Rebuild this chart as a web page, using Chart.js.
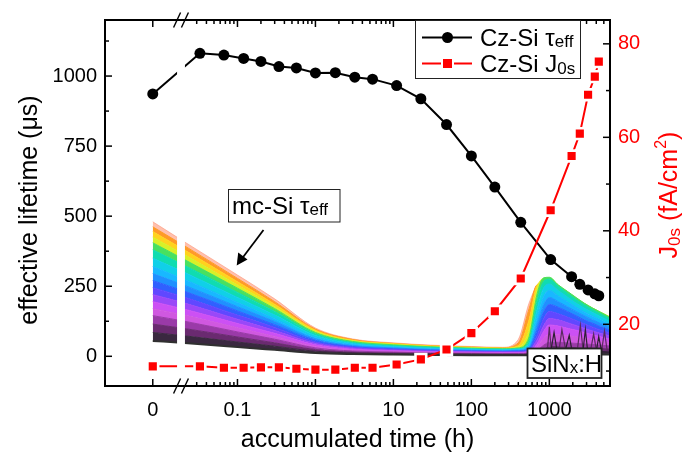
<!DOCTYPE html>
<html><head><meta charset="utf-8">
<script src="https://cdn.jsdelivr.net/npm/chart.js@4/dist/chart.umd.min.js"></script>
<style>html,body{margin:0;padding:0;background:#fff}canvas{display:block}</style>
</head><body>
<canvas id="c" width="691" height="455"></canvas>
<script>
// ---------------- DATA ----------------
// Cz-Si reference wafer
const czTime = [0, 0.033, 0.067, 0.12, 0.2, 0.34, 0.57, 1.0, 1.8, 3.2, 5.4, 11, 22.5, 48, 100, 200, 430, 1040, 1930, 2460, 3140, 3830, 4310];
const czTau  = [936, 1081, 1075, 1063, 1052, 1034, 1029, 1011, 1012, 996, 989, 966, 919, 827, 715, 604, 478, 345, 284, 257, 237, 223, 216];
const czJ0s  = [11.0, 11.0, 10.7, 10.7, 10.8, 10.8, 10.5, 10.3, 10.3, 10.7, 10.7, 11.4, 12.5, 14.6, 18.1, 22.8, 29.8, 44.4, 56.0, 60.8, 69.1, 73.0, 76.2];

// mc-Si effective lifetime, a selection of the many traces (top = highest initial lifetime)
const mcTime = [0, 0.021, 0.1, 0.3, 1, 3, 10, 30, 100, 250, 400, 550, 700, 850, 1000, 1300, 1700, 2200, 2800, 3600, 4500, 5900];
const mcTau = [
  [480, 408, 290, 205, 101, 62, 48, 40, 35, 32,  60, 190, 245, 235, 225, 205, 190, 175, 160, 150, 140, 128],
  [462, 394, 278, 195,  97, 60, 46, 38, 33, 30,  48, 170, 255, 250, 240, 220, 205, 188, 172, 160, 148, 135],
  [445, 379, 266, 186,  93, 57, 45, 37, 32, 29,  38, 130, 255, 268, 262, 240, 220, 200, 183, 168, 155, 140],
  [425, 362, 254, 178,  89, 55, 43, 35, 31, 28,  33,  95, 245, 278, 275, 250, 228, 205, 188, 172, 158, 142],
  [405, 345, 243, 170,  85, 53, 41, 34, 29, 27,  30,  70, 225, 280, 282, 255, 232, 210, 190, 172, 158, 140],
  [380, 324, 228, 160,  80, 49, 38, 32, 27, 25,  27,  55, 200, 268, 275, 250, 226, 203, 184, 166, 152, 135],
  [350, 299, 210, 147,  74, 46, 35, 29, 25, 23,  25,  45, 170, 245, 258, 235, 212, 190, 172, 156, 142, 126],
  [320, 274, 192, 134,  67, 42, 32, 27, 23, 21,  23,  38, 140, 215, 235, 215, 195, 175, 158, 143, 130, 115],
  [295, 253, 177, 124,  62, 38, 30, 24, 21, 19,  21,  32, 115, 185, 210, 195, 177, 160, 145, 130, 118, 104],
  [270, 232, 162, 113,  57, 35, 27, 22, 19, 18,  19,  27,  95, 160, 185, 175, 160, 145, 130, 118, 106,  94],
  [245, 211, 147, 103,  51, 32, 25, 20, 18, 16,  17,  23,  75, 135, 160, 152, 140, 128, 116, 104,  94,  84],
  [220, 190, 132,  92,  46, 29, 22, 18, 16, 15,  15,  20,  60, 110, 135, 130, 120, 110, 100,  90,  82,  73],
  [195, 168, 117,  82,  41, 25, 20, 16, 14, 13,  13,  17,  45,  90, 112, 108, 100,  93,  85,  77,  70,  62],
  [170, 147, 102,  71,  36, 22, 17, 14, 12, 11,  11,  14,  35,  65,  80,  78,  74,  70,  65,  60,  55,  50],
  [145, 125,  87,  61,  30, 19, 15, 12, 11, 10,  10,  12,  22,  40,  50,  50,  48,  46,  44,  42,  40,  37],
  [115,  99,  69,  48,  24, 15, 12, 10,  9,  8,   8,   9,  15,  25,  32,  33,  32,  31,  30,  29,  28,  26],
  [ 85,  73,  51,  36,  18, 12,  9,  8,  7,  6,   6,   7,  10,  14,  18,  19,  19,  18,  18,  17,  16,  15],
  [ 55,  47,  33,  23,  12,  8,  6,  5,  4,  4,   4,   4,   5,   6,   7,   7,   7,   7,   6,   6,   6,   6]
];
// noisy dark mc-Si traces after the turning point
const spikeTime = [700, 850, 950, 1000, 1050, 1150, 1250, 1350, 1450, 1600, 1800, 1950, 2100, 2300, 2500, 2700, 2900, 3100, 3400, 3700, 4000, 4300, 4700, 5100, 5500, 5900];
const spikeA = [10, 25, 30, 105, 35, 34, 33, 32, 95, 31, 30, 30, 29, 28, 110, 27, 26, 26, 25, 80, 24, 24, 23, 90, 22, 22];
const spikeB = [6, 15, 20, 22, 22, 85, 22, 21, 21, 20, 75, 20, 19, 19, 18, 18, 95, 18, 17, 17, 17, 70, 16, 16, 15, 15];

// axis ticks
const xMajorTicks = [0, 0.1, 1, 10, 100, 1000];
const xMinorTicks = [0.03,0.04,0.05,0.06,0.07,0.08,0.09, 0.2,0.3,0.4,0.5,0.6,0.7,0.8,0.9, 2,3,4,5,6,7,8,9,
                     20,30,40,50,60,70,80,90, 200,300,400,500,600,700,800,900, 2000,3000,4000,5000];
const yMajorTicks = [0, 250, 500, 750, 1000];
const yMinorTicks = [125, 375, 625, 875, 1125];
const y2MajorTicks = [20, 40, 60, 80];
const y2MinorTicks = [10, 30, 50, 70];

// ---------------- STYLE / LAYOUT ----------------
const ZERO_AT = 0.0082;          // where "0" sits on the broken log axis
const BREAK_LO = 0.0168, BREAK_HI = 0.0212;
const FF = '"Liberation Sans", Arial, Helvetica, sans-serif';
const mcColors = ['rgba(255,150,120,0.6)','#ff9a28','#ffd21e','#d8f028','#48e060','#10dcb0','#10d0e8','#18b8ff',
  '#2090ff','#3060ff','#6048ff','#9a48f8','#cc50f4','#d058e0','#9a3aa8','#6a2a70','#3a2840','#303030'];
const tx = t => (t === 0 ? ZERO_AT : t);

const datasets = [];
mcTau.forEach((row, i) => {
  datasets.push({
    data: row.map((v, j) => ({x: tx(mcTime[j]), y: v})),
    yAxisID: 'y', borderColor: mcColors[i], backgroundColor: mcColors[i],
    borderWidth: i === mcTau.length - 1 ? 2 : 1, pointRadius: 0,
    fill: i < mcTau.length - 1 ? '+1' : false,
    cubicInterpolationMode: 'monotone', order: 100 - i
  });
});
[[spikeA, '#5a2a60'], [spikeB, '#2e1e34']].forEach(([vals, col], k) => {
  datasets.push({
    data: vals.map((v, j) => ({x: spikeTime[j], y: v})), yAxisID: 'y',
    borderColor: col, borderWidth: 1.2, pointRadius: 0, fill: false, tension: 0, order: 20 - k
  });
});
datasets.push({
  data: czTime.map((t, j) => ({x: tx(t), y: czTau[j]})), yAxisID: 'y',
  borderColor: '#000', backgroundColor: '#000', borderWidth: 2,
  pointStyle: 'circle', pointRadius: 5.5, pointBackgroundColor: '#000', pointBorderColor: '#000', pointBorderWidth: 0,
  fill: false, tension: 0, order: 1
});
datasets.push({
  data: czTime.map((t, j) => ({x: tx(t), y: czJ0s[j]})), yAxisID: 'y2',
  borderColor: '#ff0000', backgroundColor: '#ff0000', borderWidth: 2,
  pointStyle: 'rect', pointRadius: 7.6, pointBackgroundColor: '#ff0000', pointBorderColor: '#ffffff', pointBorderWidth: 2.6,
  fill: false, tension: 0, order: 0
});

function richWidth(ctx, parts) { let w = 0; for (const p of parts) { ctx.font = p.s + 'px ' + FF; w += ctx.measureText(p.t).width; } return w; }
function drawRich(ctx, parts, x, y) {
  for (const p of parts) { ctx.font = p.s + 'px ' + FF; ctx.fillText(p.t, x, y + (p.dy || 0)); x += ctx.measureText(p.t).width; }
}
function seg(ctx, x1, y1, x2, y2) { ctx.beginPath(); ctx.moveTo(x1, y1); ctx.lineTo(x2, y2); ctx.stroke(); }

const decor = {
  id: 'decor',
  afterDatasetsDraw(chart) {
    const {ctx, chartArea: a, scales: {x}} = chart;
    const x1 = x.getPixelForValue(BREAK_LO), x2 = x.getPixelForValue(BREAK_HI);
    ctx.save(); ctx.fillStyle = '#fff'; ctx.fillRect(x1, a.top + 1, x2 - x1, a.bottom - a.top - 2); ctx.restore();
  },
  afterDraw(chart) {
    const {ctx, chartArea: a, scales: {x, y, y2}} = chart;
    ctx.save();
    ctx.strokeStyle = '#000'; ctx.lineWidth = 1.5;
    xMajorTicks.forEach(v => { const p = x.getPixelForValue(tx(v)); seg(ctx, p, a.bottom, p, a.bottom - 7); seg(ctx, p, a.top, p, a.top + 7); });
    xMinorTicks.forEach(v => { const p = x.getPixelForValue(v); seg(ctx, p, a.bottom, p, a.bottom - 4); seg(ctx, p, a.top, p, a.top + 4); });
    yMajorTicks.forEach(v => { const p = y.getPixelForValue(v); seg(ctx, a.left, p, a.left + 7, p); });
    yMinorTicks.forEach(v => { const p = y.getPixelForValue(v); seg(ctx, a.left, p, a.left + 4, p); });
    y2MajorTicks.forEach(v => { const p = y2.getPixelForValue(v); seg(ctx, a.right, p, a.right - 7, p); });
    y2MinorTicks.forEach(v => { const p = y2.getPixelForValue(v); seg(ctx, a.right, p, a.right - 4, p); });
    // frame
    ctx.lineWidth = 2; ctx.strokeRect(a.left, a.top, a.right - a.left, a.bottom - a.top);
    // axis break marks
    ctx.lineWidth = 1.4;
    [x.getPixelForValue(BREAK_LO), x.getPixelForValue(BREAK_HI)].forEach(bx => {
      [a.top, a.bottom].forEach(by => seg(ctx, bx - 3.5, by + 7.5, bx + 3.5, by - 7.5));
    });
    // axis titles
    ctx.fillStyle = '#000'; ctx.textBaseline = 'alphabetic'; ctx.textAlign = 'left';
    let parts = [{t: 'accumulated time (h)', s: 25}];
    drawRich(ctx, parts, (a.left + a.right) / 2 - richWidth(ctx, parts) / 2, 447);
    parts = [{t: 'effective lifetime (\u03bcs)', s: 25}];
    ctx.save(); ctx.translate(37, 210); ctx.rotate(-Math.PI / 2);
    drawRich(ctx, parts, -richWidth(ctx, parts) / 2, 0); ctx.restore();
    ctx.fillStyle = '#ff0000';
    parts = [{t: 'J', s: 25}, {t: '0s', s: 17, dy: 3}, {t: ' (fA/cm', s: 25}, {t: '2', s: 16, dy: -11}, {t: ')', s: 25}];
    ctx.save(); ctx.translate(677, 195); ctx.rotate(-Math.PI / 2);
    drawRich(ctx, parts, -richWidth(ctx, parts) / 2, 0); ctx.restore();
    // legend
    ctx.fillStyle = '#fff'; ctx.fillRect(415.5, 20.5, 165, 58);
    ctx.strokeStyle = '#222'; ctx.lineWidth = 1; ctx.strokeRect(415.5, 20.5, 165, 58);
    ctx.strokeStyle = '#000'; ctx.lineWidth = 2; seg(ctx, 422, 37.5, 472, 37.5);
    ctx.fillStyle = '#000'; ctx.beginPath(); ctx.arc(447.5, 37.5, 5.5, 0, Math.PI * 2); ctx.fill();
    ctx.strokeStyle = '#ff0000'; seg(ctx, 422, 63.5, 472, 63.5);
    ctx.fillStyle = '#fff'; ctx.fillRect(441, 57, 13, 13);
    ctx.fillStyle = '#ff0000'; ctx.fillRect(443, 59, 9, 9);
    ctx.fillStyle = '#000';
    drawRich(ctx, [{t: 'Cz-Si ', s: 24}, {t: '\u03c4', s: 24}, {t: 'eff', s: 17, dy: 1}], 480, 45.5);
    drawRich(ctx, [{t: 'Cz-Si J', s: 24}, {t: '0s', s: 17, dy: 2}], 480, 72);
    // mc-Si label + arrow
    ctx.fillStyle = '#fff'; ctx.fillRect(228.5, 189.5, 111.5, 32.5);
    ctx.strokeStyle = '#222'; ctx.lineWidth = 1; ctx.strokeRect(228.5, 189.5, 111.5, 32.5);
    ctx.fillStyle = '#000';
    drawRich(ctx, [{t: 'mc-Si ', s: 24}, {t: '\u03c4', s: 24}, {t: 'eff', s: 17, dy: 1}], 232, 214);
    ctx.strokeStyle = '#000'; ctx.lineWidth = 1.8; seg(ctx, 263.5, 230, 242, 258.5);
    ctx.beginPath(); ctx.moveTo(236.7, 265.5); ctx.lineTo(238.2, 252.6); ctx.lineTo(247.5, 259.6); ctx.closePath(); ctx.fill();
    // SiNx:H label
    ctx.fillStyle = '#fff'; ctx.fillRect(527.5, 348.5, 74, 29.5);
    ctx.strokeStyle = '#222'; ctx.strokeRect(527.5, 348.5, 74, 29.5);
    ctx.fillStyle = '#000';
    drawRich(ctx, [{t: 'SiN', s: 24}, {t: 'x', s: 17, dy: 1}, {t: ':H', s: 24}], 531, 372);
    ctx.restore();
  }
};

new Chart(document.getElementById('c'), {
  type: 'line',
  data: {datasets},
  plugins: [decor],
  options: {
    responsive: false, animation: false, devicePixelRatio: 1,
    layout: {padding: {top: 15, left: 0, right: 0, bottom: 0}},
    plugins: {legend: {display: false}, tooltip: {enabled: false}},
    scales: {
      x: {
        type: 'logarithmic', min: 0.002, max: 6000,
        grid: {display: false, drawTicks: false}, border: {display: false},
        afterBuildTicks: s => { s.ticks = xMajorTicks.map(v => ({value: tx(v)})); },
        afterFit: s => { s.height = 69; },
        ticks: {autoSkip: false, maxRotation: 0, padding: 12, color: '#000', font: {family: FF, size: 20},
                callback: v => (v === ZERO_AT ? '0' : String(v))}
      },
      y: {
        type: 'linear', position: 'left', min: -106, max: 1200,
        grid: {display: false, drawTicks: false}, border: {display: false},
        afterBuildTicks: s => { s.ticks = yMajorTicks.map(v => ({value: v})); },
        afterFit: s => { s.width = 105; },
        ticks: {padding: 8, color: '#000', font: {family: FF, size: 20}, callback: v => String(v)}
      },
      y2: {
        type: 'linear', position: 'right', min: 6.8, max: 85.1,
        grid: {display: false, drawTicks: false}, border: {display: false},
        afterBuildTicks: s => { s.ticks = y2MajorTicks.map(v => ({value: v})); },
        afterFit: s => { s.width = 81; },
        ticks: {padding: 8, color: '#ff0000', font: {family: FF, size: 20}, callback: v => String(v)}
      }
    }
  }
});
</script>
</body></html>
